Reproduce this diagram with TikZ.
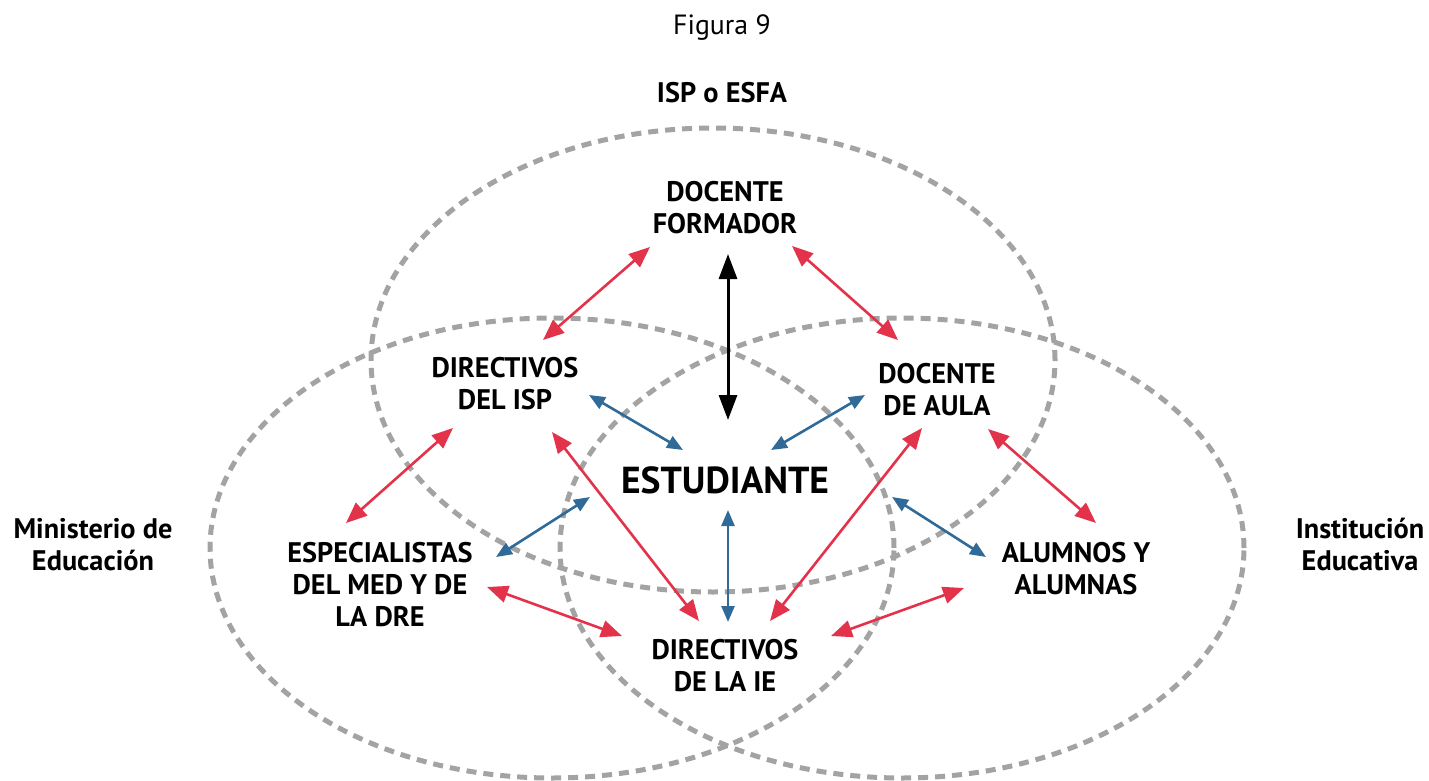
\documentclass[tikz,border=0pt]{standalone}
\usepackage{fontspec}
\setmainfont{PT Sans}
\usetikzlibrary{arrows.meta}
\definecolor{redA}{HTML}{E3334B}
\definecolor{blueA}{HTML}{2F6A99}
\definecolor{grayA}{HTML}{A3A3A3}
\tikzset{
  zone/.style={draw=grayA, line width=5pt, dash pattern=on 10pt off 7pt},
  lbl/.style={font=\bfseries\fontsize{28.3}{32}\selectfont, align=center, inner sep=0pt},
  redarr/.style={draw=redA, line width=2.6pt, {Triangle[length=21pt,width=17pt]}-{Triangle[length=21pt,width=17pt]}},
  bluearr/.style={draw=blueA, line width=2.6pt, {Triangle[length=16pt,width=13pt]}-{Triangle[length=16pt,width=13pt]}},
  blackarr/.style={draw=black, line width=3pt, {Triangle[length=25pt,width=18pt]}-{Triangle[length=25pt,width=18pt]}}
}
\begin{document}
\begin{tikzpicture}[x=1pt,y=-1pt]
\useasboundingbox (0,0) rectangle (1429,781);
\begin{scope}
\clip (0,0) rectangle (1429,781);
\draw[zone] (713,360) ellipse [x radius=342pt, y radius=232pt];
\draw[zone] (552,548) ellipse [x radius=342pt, y radius=230pt];
\draw[zone] (902,548) ellipse [x radius=342pt, y radius=230pt];
\end{scope}

\node[inner sep=0pt, anchor=base, font=\fontsize{27.8}{30}\selectfont] (fig) at (722,35) {Figura 9};
\node[lbl, anchor=base] (isp) at (722,103) {ISP o ESFA};
\node[lbl] (form) at (725,208) {DOCENTE\\FORMADOR};
\node[lbl] (dirisp) at (505,384) {DIRECTIVOS\\DEL ISP};
\node[lbl] (aula) at (937,390) {DOCENTE\\DE AULA};
\node[lbl, anchor=base, font=\bfseries\fontsize{37.6}{40}\selectfont] (est) at (725,493) {ESTUDIANTE};
\node[lbl] (esp) at (380,585) {ESPECIALISTAS\\DEL MED Y DE\\LA DRE};
\node[lbl] (alu) at (1076,569) {ALUMNOS Y\\ALUMNAS};
\node[lbl] (dirie) at (725,666) {DIRECTIVOS\\DE LA IE};
\node[lbl] (min) at (93,545) {Ministerio de\\Educación};
\node[lbl] (inst) at (1360,545) {Institución\\Educativa};

\coordinate (a1) at (650,247); \coordinate (b1) at (543,340);
\coordinate (a2) at (792,246); \coordinate (b2) at (898,340);
\coordinate (a3) at (728,254); \coordinate (b3) at (728,420);
\coordinate (a4) at (589,395); \coordinate (b4) at (683,450);
\coordinate (a5) at (865,395); \coordinate (b5) at (771,450);
\coordinate (a6) at (453,428); \coordinate (b6) at (346,523);
\coordinate (a7) at (552,432); \coordinate (b7) at (699,621);
\coordinate (a8) at (496,557); \coordinate (b8) at (590,497);
\coordinate (a9) at (487,587); \coordinate (b9) at (622,636);
\coordinate (a11) at (922,428); \coordinate (b11) at (770,621);
\coordinate (a12) at (988,429); \coordinate (b12) at (1096,523);
\coordinate (a13) at (892,497); \coordinate (b13) at (986,557);
\coordinate (a14) at (831,636); \coordinate (b14) at (964,588);
\coordinate (a15) at (728,510); \coordinate (b15) at (728,622);

\draw[redarr] (a1) -- (b1);
\draw[redarr] (a2) -- (b2);
\draw[blackarr] (a3) -- (b3);
\draw[bluearr] (a4) -- (b4);
\draw[bluearr] (a5) -- (b5);
\draw[redarr] (a6) -- (b6);
\draw[redarr] (a7) -- (b7);
\draw[bluearr] (a8) -- (b8);
\draw[redarr] (a9) -- (b9);
\draw[redarr] (a11) -- (b11);
\draw[redarr] (a12) -- (b12);
\draw[bluearr] (a13) -- (b13);
\draw[redarr] (a14) -- (b14);
\draw[bluearr] (a15) -- (b15);
\end{tikzpicture}
\end{document}
